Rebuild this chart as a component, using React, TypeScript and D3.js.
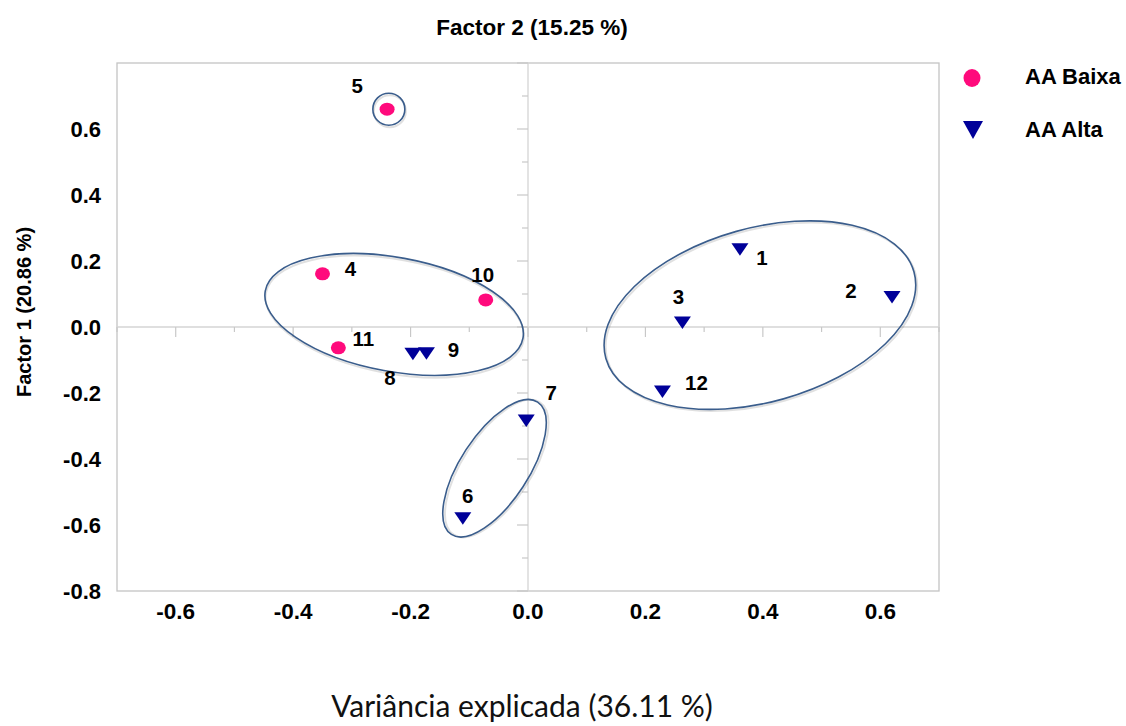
import React from "react";
import * as d3 from "d3";

// group "AA Baixa"
const baixaIds = ["4", "5", "10", "11"];
const baixaF2 = [-0.35, -0.24, -0.072, -0.323];
const baixaF1 = [0.161, 0.66, 0.082, -0.063];

// group "AA Alta"
const altaIds = ["1", "2", "3", "6", "7", "8", "9", "12"];
const altaF2 = [0.361, 0.62, 0.263, -0.111, -0.003, -0.196, -0.173, 0.229];
const altaF1 = [0.235, 0.09, 0.013, -0.58, -0.284, -0.082, -0.08, -0.196];

const xTickValues = [-0.6, -0.4, -0.2, 0, 0.2, 0.4, 0.6];
const yTickValues = [-0.8, -0.6, -0.4, -0.2, 0, 0.2, 0.4, 0.6];
const seriesNames = ["AA Baixa", "AA Alta"];

// hand drawn cluster outlines, centres in data units
const clusterF2 = [-0.237, -0.228, -0.057, 0.395];
const clusterF1 = [0.66, 0.038, -0.428, 0.036];

const clusterShape = [
  { rx: 16, ry: 16, angle: 0 },
  { rx: 131, ry: 57, angle: 10.4 },
  { rx: 79, ry: 34, angle: -56.9 },
  { rx: 160, ry: 87, angle: -15.7 },
];

const labelOffset = {
  "5": [-30, -24], "4": [28, -5], "10": [-3, -25], "11": [25, -9],
  "8": [-23, 23], "9": [27, -4], "7": [25, -28], "6": [5, -23],
  "1": [22, 8], "2": [-41, -7], "3": [-4, -26], "12": [34, -9],
};

const PINK = "#ff0a7c";
const BLUE = "#000099";
const FONT = "'Liberation Sans', Arial, sans-serif";

const fmt = (v) => (Math.abs(v) < 1e-9 ? "0.0" : v.toFixed(1));
const triangle = (w, h) => `M${-w / 2},${-h / 2}L${w / 2},${-h / 2}L0,${h / 2}Z`;

export default function App() {
  const x = d3.scaleLinear().domain([-0.7, 0.7]).range([117, 939]);
  const y = d3.scaleLinear().domain([-0.8, 0.8]).range([591, 63]);

  const baixa = baixaIds.map((id, i) => ({ id, x: baixaF2[i], y: baixaF1[i] }));
  const alta = altaIds.map((id, i) => ({ id, x: altaF2[i], y: altaF1[i] }));
  const clusters = clusterF2.map((cx, i) => ({ cx, cy: clusterF1[i], ...clusterShape[i] }));

  const xMinor = d3.range(-7, 8);
  const yMinor = d3.range(-8, 9);

  return (
    <svg width={1126} height={726} style={{ position: "absolute", left: 0, top: 0, background: "#fff" }}
      fontFamily={FONT}>
      <rect x={x(-0.7)} y={y(0.8)} width={x(0.7) - x(-0.7)} height={y(-0.8) - y(0.8)}
        fill="none" stroke="#c4c4c4" strokeWidth={1.3} />
      {/* zero axes */}
      <line x1={x(-0.7)} x2={x(0.7)} y1={y(0)} y2={y(0)} stroke="#d4d4d4" strokeWidth={1.3} />
      <line x1={x(0)} x2={x(0)} y1={y(0.8)} y2={y(-0.8)} stroke="#d4d4d4" strokeWidth={1.3} />
      {xMinor.map((i) => (
        <line key={"xt" + i} x1={x(i / 10)} x2={x(i / 10)} y1={y(0)} y2={y(0) + (i % 2 === 0 ? 10 : 5)}
          stroke="#c8c8c8" strokeWidth={1.2} />
      ))}
      {yMinor.map((i) => (
        <line key={"yt" + i} x1={x(0) - (i % 2 === 0 ? 11 : 6)} x2={x(0)} y1={y(i / 10)} y2={y(i / 10)}
          stroke="#c8c8c8" strokeWidth={1.2} />
      ))}
      {xTickValues.map((v) => (
        <text key={"xl" + v} x={x(v)} y={y(-0.8) + 20} textAnchor="middle" dominantBaseline="central"
          fontSize={22.5} fontWeight="bold" fill="#000">{fmt(v)}</text>
      ))}
      {yTickValues.map((v) => (
        <text key={"yl" + v} x={101} y={y(v)} textAnchor="end" dominantBaseline="central"
          fontSize={22} fontWeight="bold" fill="#000">{fmt(v)}</text>
      ))}

      {/* cluster outlines */}
      {clusters.map((c, i) => (
        <g key={"c" + i} transform={`translate(${x(c.cx)},${y(c.cy)}) rotate(${c.angle})`}>
          <ellipse cx={1} cy={2} rx={c.rx} ry={c.ry} fill="none" stroke="#000" strokeOpacity={0.12} strokeWidth={2} />
          <ellipse rx={c.rx} ry={c.ry} fill="none" stroke="#3a5d8c" strokeWidth={1.6} />
        </g>
      ))}

      {baixa.map((d) => (
        <ellipse key={"b" + d.id} cx={x(d.x)} cy={y(d.y)} rx={7.5} ry={6.5} fill={PINK} />
      ))}
      {alta.map((d) => (
        <path key={"a" + d.id} d={triangle(17, 12.5)} transform={`translate(${x(d.x)},${y(d.y)})`} fill={BLUE} />
      ))}
      {[...baixa, ...alta].map((d) => (
        <text key={"l" + d.id} x={x(d.x) + labelOffset[d.id][0]} y={y(d.y) + labelOffset[d.id][1]}
          textAnchor="middle" dominantBaseline="central" fontSize={20.5} fontWeight="bold" fill="#000">{d.id}</text>
      ))}

      {/* legend */}
      <ellipse cx={972} cy={78} rx={8.5} ry={9} fill={PINK} />
      <path d={triangle(20, 18)} transform="translate(973,130)" fill={BLUE} />
      <text x={1025} y={76} dominantBaseline="central" fontSize={22} fontWeight="bold">{seriesNames[0]}</text>
      <text x={1025} y={129} dominantBaseline="central" fontSize={22} fontWeight="bold">{seriesNames[1]}</text>

      {/* titles */}
      <text x={532} y={27} textAnchor="middle" dominantBaseline="central" fontSize={22.5} fontWeight="bold">
        Factor 2 (15.25 %)
      </text>
      <text transform="translate(24,312) rotate(-90)" textAnchor="middle" dominantBaseline="central"
        fontSize={20} fontWeight="bold">Factor 1 (20.86 %)</text>
      <text x={522} y={705} textAnchor="middle" dominantBaseline="central" fontSize={30}
        fontFamily="Lato, 'Open Sans', sans-serif" fill="#111">Variância explicada (36.11 %)</text>
    </svg>
  );
}
